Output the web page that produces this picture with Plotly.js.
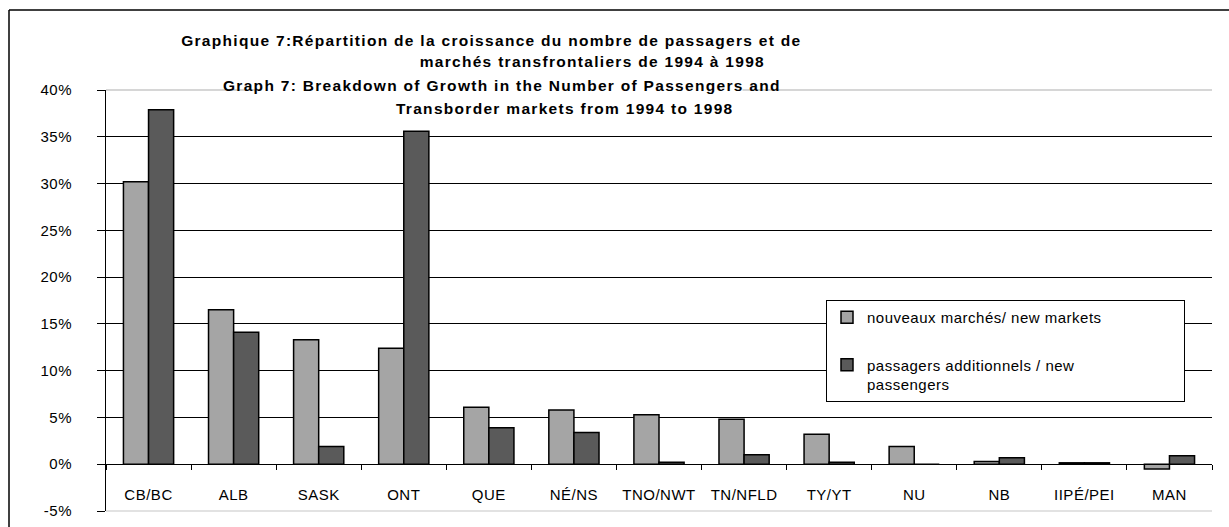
<!DOCTYPE html>
<html>
<head>
<meta charset="utf-8">
<script src="https://cdn.plot.ly/plotly-3.0.1.min.js"></script>
<style>
html,body{margin:0;padding:0;background:#fff;}
#chart{width:1229px;height:527px;}
#chart .xtick text, #chart .ytick text, #chart .legendtext { letter-spacing:0.5px; }
#chart .annotation-text { letter-spacing:1.3px; }
</style>
</head>
<body>
<div id="chart"></div>
<script>
const categories = ["CB/BC","ALB","SASK","ONT","QUE","NÉ/NS","TNO/NWT","TN/NFLD","TY/YT","NU","NB","IIPÉ/PEI","MAN"];
const newMarkets = [30.2, 16.5, 13.3, 12.4, 6.1, 5.8, 5.3, 4.8, 3.2, 1.9, 0.3, 0.15, -0.5];
const newPassengers = [37.9, 14.1, 1.9, 35.6, 3.9, 3.4, 0.2, 1.0, 0.2, 0.0, 0.7, 0.15, 0.9];
const seriesNames = ["nouveaux marchés/ new markets", "passagers additionnels / new<br>passengers"];
const yTicks = [-5, 0, 5, 10, 15, 20, 25, 30, 35, 40];
const yTickText = yTicks.map(v => v + "%");
const titleLines = [
  "Graphique 7:Répartition de la croissance du nombre de passagers et de",
  "marchés transfrontaliers de 1994 à 1998",
  "Graph 7: Breakdown of Growth in the Number of Passengers and",
  "Transborder markets from 1994 to 1998"
];

const FONT = "Liberation Sans, Arial, sans-serif";
const PAD = "\u00A0".repeat(22);

const traces = [
  {type:"bar", x:categories, y:newMarkets, name:seriesNames[0] + PAD, legendgroup:"a",
   marker:{color:"#a5a5a5", line:{color:"#000", width:1.5}}},
  {type:"bar", x:categories, y:newPassengers, name:seriesNames[1], legendgroup:"b",
   marker:{color:"#5a5a5a", line:{color:"#000", width:1.5}}}
];

// plot area in pixels: x 106..1212, y 90..511
const L=106, R=1212, T=90, B=511, W=R-L, H=B-T;
const px = x => (x - L)/W;
const py = y => (B - y)/H;

const titlePos = [[491,40],[592,61],[502,86],[565,108]];
const annotations = titleLines.map((t,i) => ({
  text:"<b>"+t+"</b>", xref:"paper", yref:"paper",
  x:px(titlePos[i][0]), y:py(titlePos[i][1]), xanchor:"center", yanchor:"middle",
  showarrow:false, font:{family:FONT, size:15.5, color:"#000"},
  bgcolor: i===2 ? "#fff" : "rgba(0,0,0,0)", borderpad:0
}));

const layout = {
  width:1229, height:527,
  margin:{l:L, r:1229-R, t:T, b:527-B},
  paper_bgcolor:"#fff", plot_bgcolor:"#fff",
  barmode:"group", bargap:0.41, bargroupgap:0,
  font:{family:FONT, size:15, color:"#000"},
  xaxis:{
    type:"category", anchor:"free", position:5/45,
    showline:true, linecolor:"#000", linewidth:1,
    ticks:"outside", tickson:"boundaries", ticklen:5, tickcolor:"#000", tickwidth:1,
    showgrid:false, ticklabelstandoff:17,
    tickfont:{family:FONT, size:15, color:"#000"}
  },
  yaxis:{
    range:[-5,40], tickvals:yTicks, ticktext:yTickText,
    showline:true, linecolor:"#000", linewidth:1,
    ticks:"outside", ticklen:8, tickcolor:"#000", tickwidth:1,
    showgrid:true, gridcolor:"#000", gridwidth:1, zeroline:false,
    ticklabelstandoff:22,
    tickfont:{family:FONT, size:15, color:"#000"}
  },
  showlegend:true,
  legend:{
    x:px(826), y:py(300), xanchor:"left", yanchor:"top",
    bgcolor:"#fff", bordercolor:"#000", borderwidth:1,
    font:{family:FONT, size:15, color:"#000"},
    traceorder:"grouped", tracegroupgap:25, valign:"top",
    itemwidth:30
  },
  annotations:annotations,
  shapes:[
    {type:"line", xref:"paper", yref:"paper", x0:0, x1:1, y0:1, y1:1, line:{color:"#c8c8c8", width:1.5}, layer:"above"},
    {type:"line", xref:"paper", yref:"paper", x0:0, x1:1, y0:0, y1:0, line:{color:"#d8d8d8", width:1.5}, layer:"above"},
    {type:"line", xref:"paper", yref:"paper", x0:px(9), x1:px(9), y0:py(10), y1:py(540), line:{color:"#000", width:1.5}},
    {type:"line", xref:"paper", yref:"paper", x0:px(9), x1:px(1240), y0:py(10), y1:py(10), line:{color:"#000", width:1.5}}
  ]
};

Plotly.newPlot("chart", traces, layout, {displayModeBar:false, staticPlot:true});
</script>
</body>
</html>
